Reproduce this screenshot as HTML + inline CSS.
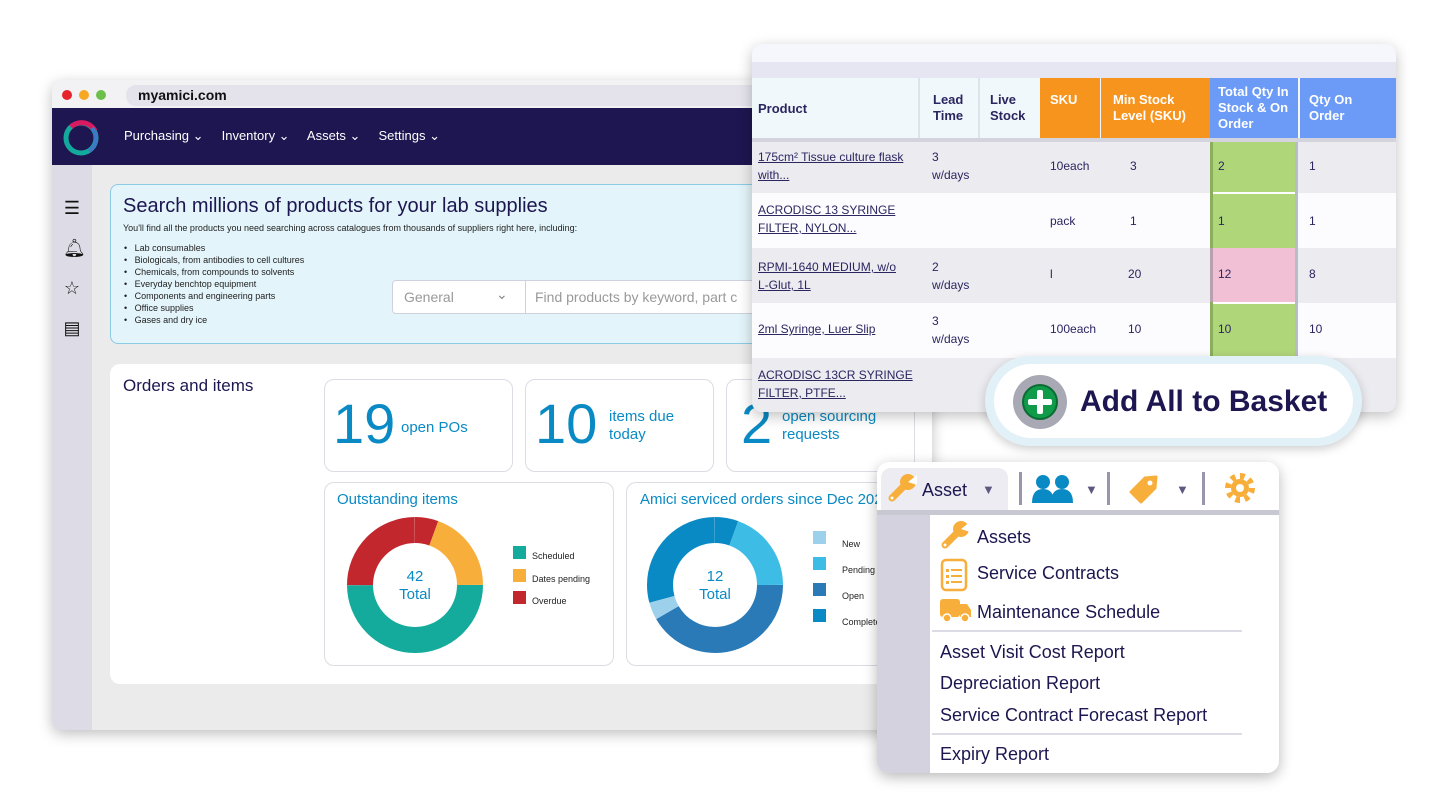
<!DOCTYPE html>
<html><head><meta charset="utf-8"><style>
*{margin:0;padding:0;box-sizing:border-box}
body{width:1440px;height:809px;background:#fff;position:relative;overflow:hidden;font-family:"Liberation Sans",sans-serif;color:#1d1650}
.a{position:absolute}
.card{position:absolute;background:#fff;border:1px solid #dcdce4;border-radius:10px}
.blue{color:#0a8ac4}
.lnk{text-decoration:underline;color:#2b2560;font-size:12px;line-height:18px}
.cell{font-size:12px;color:#2b2560;line-height:18px}
.hd{font-weight:bold;font-size:13px;line-height:16px;color:#2b2560}
.hw{color:#fff;font-weight:bold;font-size:13px;line-height:16px}
.mi{font-size:18px;color:#1d1650}
</style></head><body>
<svg width="0" height="0" style="position:absolute"><defs>
<g id="wr"><path d="M5 25 L19 11" stroke="#f8ae3a" stroke-width="7" stroke-linecap="round"/><circle cx="21" cy="9" r="8" fill="#f8ae3a"/><path d="M21 9 L30 2 L30 12Z" fill="#fff"/><circle cx="5" cy="25" r="1.5" fill="#fff"/></g>
</defs></svg>
<!-- browser window -->
<div class="a" style="left:52px;top:80px;width:880px;height:650px;border-radius:10px;background:#ebebeb;box-shadow:0 4px 14px rgba(0,0,0,.25);overflow:hidden">
 <div class="a" style="left:0;top:0;width:880px;height:28px;background:#f2f2f4"></div>
 <div class="a" style="left:10px;top:10px;width:10px;height:10px;border-radius:5px;background:#e5242b"></div>
 <div class="a" style="left:27px;top:10px;width:10px;height:10px;border-radius:5px;background:#f7a823"></div>
 <div class="a" style="left:44px;top:10px;width:10px;height:10px;border-radius:5px;background:#6cc04a"></div>
 <div class="a" style="left:74px;top:5px;width:800px;height:21px;border-radius:10px;background:#e4e3ec"></div>
 <div class="a" style="left:86px;top:7px;font-size:14px;font-weight:bold;color:#111">myamici.com</div>
 <div class="a" style="left:0;top:28px;width:880px;height:57px;background:#1d1650"></div>
 <svg class="a" style="left:10px;top:38px" width="38" height="40"><circle cx="19" cy="20" r="15" fill="none" stroke="#13aa9d" stroke-width="5"/><path d="M9 9 A15 15 0 0 1 33 13" fill="none" stroke="#d81b60" stroke-width="5"/><path d="M30 10 A15 15 0 0 1 27 33" fill="none" stroke="#3d79c4" stroke-width="4"/></svg>
 <div class="a" style="left:72px;top:48px;font-size:13px;color:#fff">Purchasing ⌄&nbsp;&nbsp;&nbsp;&nbsp; Inventory ⌄&nbsp;&nbsp;&nbsp;&nbsp; Assets ⌄&nbsp;&nbsp;&nbsp;&nbsp; Settings ⌄</div>
 <div class="a" style="left:0;top:85px;width:40px;height:565px;background:#dcdbe6"></div>
 <div class="a" style="left:11px;top:108px;font-size:18px;color:#111;line-height:40px;text-align:center;width:18px">☰<br>🔔︎<br>☆<br>▤</div>
 <div class="a" style="left:58px;top:104px;width:830px;height:160px;background:#e3f4fa;border:1px solid #8ccbe4;border-radius:8px"></div>
 <div class="a" style="left:71px;top:115px;font-size:20px;color:#1d1650">Search millions of products for your lab supplies</div>
 <div class="a" style="left:71px;top:143px;font-size:9px;color:#222">You'll find all the products you need searching across catalogues from thousands of suppliers right here, including:</div>
 <div class="a" style="left:72px;top:162px;font-size:9px;color:#222;line-height:12px">•&nbsp;&nbsp; Lab consumables<br>•&nbsp;&nbsp; Biologicals, from antibodies to cell cultures<br>•&nbsp;&nbsp; Chemicals, from compounds to solvents<br>•&nbsp;&nbsp; Everyday benchtop equipment<br>•&nbsp;&nbsp; Components and engineering parts<br>•&nbsp;&nbsp; Office supplies<br>•&nbsp;&nbsp; Gases and dry ice</div>
 <div class="a" style="left:340px;top:200px;width:500px;height:34px;background:#fff;border:1px solid #cfd2dc;border-radius:4px"></div>
 <div class="a" style="left:473px;top:200px;width:1px;height:34px;background:#cfd2dc"></div>
 <div class="a" style="left:352px;top:209px;font-size:14px;color:#999">General</div>
 <div class="a" style="left:444px;top:206px;font-size:14px;color:#888">⌄</div>
 <div class="a" style="left:483px;top:209px;font-size:14px;color:#999">Find products by keyword, part c</div>
 <div class="a" style="left:58px;top:284px;width:830px;height:320px;background:#fff;border-radius:10px"></div>
 <div class="a" style="left:71px;top:296px;font-size:17px;color:#1d1650">Orders and items</div>
</div>
<!-- stat cards -->
<div class="card" style="left:324px;top:379px;width:189px;height:93px"></div>
<div class="a blue" style="left:333px;top:392px;font-size:56px;line-height:64px">19</div>
<div class="a blue" style="left:401px;top:419px;font-size:15px">open POs</div>
<div class="card" style="left:525px;top:379px;width:189px;height:93px"></div>
<div class="a blue" style="left:535px;top:392px;font-size:56px;line-height:64px">10</div>
<div class="a blue" style="left:609px;top:408px;font-size:15px;line-height:18px">items due<br>today</div>
<div class="card" style="left:726px;top:379px;width:189px;height:93px"></div>
<div class="a blue" style="left:741px;top:392px;font-size:56px;line-height:64px">2</div>
<div class="a blue" style="left:782px;top:408px;font-size:15px;line-height:18px">open sourcing<br>requests</div>
<!-- donut cards -->
<div class="card" style="left:324px;top:482px;width:290px;height:184px"></div>
<div class="a blue" style="left:337px;top:491px;font-size:15px">Outstanding items</div>
<svg class="a" style="left:347px;top:517px" width="136" height="136"><g transform="rotate(-90 68 68)" fill="none" stroke-width="26">
<circle cx="68" cy="68" r="55" pathLength="360" stroke="#14ab9c" stroke-dasharray="180 360" stroke-dashoffset="-90"/>
<circle cx="68" cy="68" r="55" pathLength="360" stroke="#c1272d" stroke-dasharray="90 360" stroke-dashoffset="-270"/>
<circle cx="68" cy="68" r="55" pathLength="360" stroke="#c1272d" stroke-dasharray="20 360" stroke-dashoffset="0"/>
<circle cx="68" cy="68" r="55" pathLength="360" stroke="#f8ae3a" stroke-dasharray="70 360" stroke-dashoffset="-20"/></g></svg>
<div class="a blue" style="left:375px;top:568px;width:80px;text-align:center;font-size:15px;line-height:18px">42<br>Total</div>
<div class="a" style="left:513px;top:546px;width:13px;height:13px;background:#14ab9c"></div>
<div class="a" style="left:513px;top:569px;width:13px;height:13px;background:#f8ae3a"></div>
<div class="a" style="left:513px;top:591px;width:13px;height:13px;background:#c1272d"></div>
<div class="a" style="left:532px;top:545px;font-size:9px;color:#222;line-height:22.5px">Scheduled<br>Dates pending<br>Overdue</div>
<div class="card" style="left:626px;top:482px;width:290px;height:184px"></div>
<div class="a blue" style="left:640px;top:491px;font-size:15px">Amici serviced orders since Dec 2021</div>
<svg class="a" style="left:647px;top:517px" width="136" height="136"><g transform="rotate(-90 68 68)" fill="none" stroke-width="26">
<circle cx="68" cy="68" r="55" pathLength="360" stroke="#0a8ac4" stroke-dasharray="105 360" stroke-dashoffset="-255"/>
<circle cx="68" cy="68" r="55" pathLength="360" stroke="#0a8ac4" stroke-dasharray="20 360" stroke-dashoffset="0"/>
<circle cx="68" cy="68" r="55" pathLength="360" stroke="#3dbde6" stroke-dasharray="70 360" stroke-dashoffset="-20"/>
<circle cx="68" cy="68" r="55" pathLength="360" stroke="#2a7ab8" stroke-dasharray="150 360" stroke-dashoffset="-90"/>
<circle cx="68" cy="68" r="55" pathLength="360" stroke="#9dd0ea" stroke-dasharray="15 360" stroke-dashoffset="-240"/></g></svg>
<div class="a blue" style="left:675px;top:568px;width:80px;text-align:center;font-size:15px;line-height:18px">12<br>Total</div>
<div class="a" style="left:813px;top:531px;width:13px;height:13px;background:#9dd0ea"></div>
<div class="a" style="left:813px;top:557px;width:13px;height:13px;background:#3dbde6"></div>
<div class="a" style="left:813px;top:583px;width:13px;height:13px;background:#2a7ab8"></div>
<div class="a" style="left:813px;top:609px;width:13px;height:13px;background:#0a8ac4"></div>
<div class="a" style="left:842px;top:531px;font-size:9px;color:#222;line-height:26px">New<br>Pending<br>Open<br>Complete</div>
<!-- table panel -->
<div class="a" style="left:752px;top:44px;width:644px;height:368px;border-radius:10px;background:#f6f7fc;box-shadow:0 4px 14px rgba(0,0,0,.25);overflow:hidden">
 <div class="a" style="left:0;top:18px;width:644px;height:16px;background:#e6e6f2"></div>
 <div class="a" style="left:0;top:34px;width:166px;height:60px;background:#f1f8fb"></div>
 <div class="a" style="left:168px;top:34px;width:58px;height:60px;background:#f1f8fb"></div>
 <div class="a" style="left:228px;top:34px;width:60px;height:60px;background:#f1f8fb"></div>
 <div class="a" style="left:166px;top:34px;width:2px;height:60px;background:#dde3ea"></div>
 <div class="a" style="left:226px;top:34px;width:2px;height:60px;background:#dde3ea"></div>
 <div class="a" style="left:288px;top:34px;width:60px;height:60px;background:#f7941d"></div>
 <div class="a" style="left:349px;top:34px;width:109px;height:60px;background:#f7941d"></div>
 <div class="a" style="left:458px;top:34px;width:88px;height:60px;background:#6b9bf7"></div>
 <div class="a" style="left:548px;top:34px;width:96px;height:60px;background:#6b9bf7"></div>
 <div class="a" style="left:0;top:94px;width:644px;height:4px;background:#d4d4de"></div>
 <div class="a hd" style="left:6px;top:57px">Product</div>
 <div class="a hd" style="left:181px;top:48px">Lead<br>Time</div>
 <div class="a hd" style="left:238px;top:48px">Live<br>Stock</div>
 <div class="a hw" style="left:298px;top:48px">SKU</div>
 <div class="a hw" style="left:361px;top:48px">Min Stock<br>Level (SKU)</div>
 <div class="a hw" style="left:466px;top:40px">Total Qty In<br>Stock &amp; On<br>Order</div>
 <div class="a hw" style="left:557px;top:48px">Qty On<br>Order</div>
 <div class="a" style="left:0;top:98px;width:644px;height:51px;background:#ebebf0"></div>
 <div class="a" style="left:0;top:149px;width:644px;height:55px;background:#fcfcfe"></div>
 <div class="a" style="left:0;top:204px;width:644px;height:55px;background:#ebebf0"></div>
 <div class="a" style="left:0;top:259px;width:644px;height:55px;background:#fcfcfe"></div>
 <div class="a" style="left:0;top:314px;width:644px;height:54px;background:#ebebf0"></div>
 <div class="a" style="left:458px;top:98px;width:88px;height:216px;background:#b0d67a;border-left:3px solid #8aae5a;border-right:3px solid #b8bcc6"></div>
 <div class="a" style="left:458px;top:204px;width:88px;height:54px;background:#f1c0d4;border-left:3px solid #b8a0b0;border-right:3px solid #b8bcc6"></div>
 <div class="a" style="left:461px;top:148px;width:82px;height:2px;background:#fff"></div>
 <div class="a" style="left:461px;top:258px;width:82px;height:2px;background:#fff"></div>
 <div class="a lnk" style="left:6px;top:104px">175cm² Tissue culture flask<br>with...</div>
 <div class="a cell" style="left:180px;top:104px">3<br>w/days</div>
 <div class="a cell" style="left:298px;top:113px">10each</div><div class="a cell" style="left:378px;top:113px">3</div><div class="a cell" style="left:466px;top:113px">2</div><div class="a cell" style="left:557px;top:113px">1</div>
 <div class="a lnk" style="left:6px;top:157px">ACRODISC 13 SYRINGE<br>FILTER, NYLON...</div>
 <div class="a cell" style="left:298px;top:168px">pack</div><div class="a cell" style="left:378px;top:168px">1</div><div class="a cell" style="left:466px;top:168px">1</div><div class="a cell" style="left:557px;top:168px">1</div>
 <div class="a lnk" style="left:6px;top:214px">RPMI-1640 MEDIUM, w/o<br>L-Glut, 1L</div>
 <div class="a cell" style="left:180px;top:214px">2<br>w/days</div>
 <div class="a cell" style="left:298px;top:221px">l</div><div class="a cell" style="left:376px;top:221px">20</div><div class="a cell" style="left:466px;top:221px">12</div><div class="a cell" style="left:557px;top:221px">8</div>
 <div class="a lnk" style="left:6px;top:276px">2ml Syringe, Luer Slip</div>
 <div class="a cell" style="left:180px;top:268px">3<br>w/days</div>
 <div class="a cell" style="left:298px;top:276px">100each</div><div class="a cell" style="left:376px;top:276px">10</div><div class="a cell" style="left:466px;top:276px">10</div><div class="a cell" style="left:557px;top:276px">10</div>
 <div class="a lnk" style="left:6px;top:322px">ACRODISC 13CR SYRINGE<br>FILTER, PTFE...</div>
</div>
<!-- add to basket -->
<div class="a" style="left:985px;top:356px;width:377px;height:90px;border-radius:45px;background:#e2f1f8;box-shadow:0 3px 10px rgba(0,0,0,.2)"></div>
<div class="a" style="left:994px;top:364px;width:359px;height:74px;border-radius:37px;background:#fff"></div>
<div class="a" style="left:1013px;top:375px;width:54px;height:54px;border-radius:27px;background:#a9a9b5"></div>
<div class="a" style="left:1022px;top:384px;width:36px;height:36px;border-radius:18px;background:#0f9b4a;border:2px solid #0b6b33"></div>
<div class="a" style="left:1037px;top:390px;width:6px;height:24px;background:#fff;border-radius:2px"></div>
<div class="a" style="left:1028px;top:399px;width:24px;height:6px;background:#fff;border-radius:2px"></div>
<div class="a" style="left:1080px;top:385px;font-size:30px;font-weight:bold;color:#1d1650">Add All to Basket</div>
<!-- asset menu -->
<div class="a" style="left:877px;top:462px;width:402px;height:311px;border-radius:12px;background:#fff;box-shadow:0 4px 14px rgba(0,0,0,.28);overflow:hidden">
 <div class="a" style="left:4px;top:6px;width:127px;height:44px;background:#ececf2;border-radius:10px 10px 0 0"></div>
 <div class="a" style="left:0;top:48px;width:402px;height:5px;background:#c8c8d2"></div>
 <div class="a" style="left:0;top:53px;width:53px;height:258px;background:#d3d2de"></div>
 <svg class="a" style="left:10px;top:11px" width="32" height="32"><use href="#wr"/></svg>
 <div class="a" style="left:45px;top:18px;font-size:18px;color:#1d1650">Asset</div>
 <div class="a" style="left:105px;top:20px;font-size:13px;color:#5d5880">▼</div>
 <div class="a" style="left:142px;top:10px;width:3px;height:33px;background:#9896ac"></div>
 <div class="a" style="left:230px;top:10px;width:3px;height:33px;background:#9896ac"></div>
 <div class="a" style="left:325px;top:10px;width:3px;height:33px;background:#9896ac"></div>
 <svg class="a" style="left:155px;top:12px" width="42" height="30"><circle cx="11" cy="8" r="7" fill="#0a8ac4"/><circle cx="30" cy="8" r="7" fill="#0a8ac4"/><path d="M0 29 Q0 15 11 15 Q22 15 22 29Z M19 29 Q19 15 30 15 Q41 15 41 29Z" fill="#0a8ac4"/></svg>
 <div class="a" style="left:208px;top:20px;font-size:13px;color:#5d5880">▼</div>
 <svg class="a" style="left:250px;top:12px" width="32" height="32"><path d="M4 18 L18 4 L29 3 L28 14 L14 28 Z" fill="#f8ae3a" stroke="#f8ae3a" stroke-linejoin="round" stroke-width="3"/><circle cx="23" cy="9" r="2.5" fill="#fff"/></svg>
 <div class="a" style="left:299px;top:20px;font-size:13px;color:#5d5880">▼</div>
 <svg class="a" style="left:348px;top:11px" width="30" height="30"><circle cx="15" cy="15" r="12" fill="none" stroke="#f8ae3a" stroke-width="6" pathLength="16" stroke-dasharray="1 1"/><circle cx="15" cy="15" r="9" fill="#f8ae3a"/><circle cx="15" cy="15" r="4" fill="#fff"/></svg>
 <svg class="a" style="left:63px;top:58px" width="32" height="32"><use href="#wr"/></svg>
 <div class="a mi" style="left:100px;top:65px">Assets</div>
 <svg class="a" style="left:63px;top:96px" width="28" height="34"><rect x="2" y="2" width="24" height="30" rx="4" fill="#fff" stroke="#f8ae3a" stroke-width="2.5"/><g fill="#f8ae3a"><rect x="6" y="11" width="3" height="3"/><rect x="11" y="11" width="11" height="2"/><rect x="6" y="17" width="3" height="3"/><rect x="11" y="17" width="11" height="2"/><rect x="6" y="23" width="3" height="3"/><rect x="11" y="23" width="11" height="2"/></g></svg>
 <div class="a mi" style="left:100px;top:101px">Service Contracts</div>
 <svg class="a" style="left:63px;top:137px" width="32" height="24"><rect x="0" y="0" width="20" height="18" rx="3" fill="#f8ae3a"/><path d="M20 5 L27 5 L31 11 L31 18 L20 18Z" fill="#f8ae3a"/><circle cx="7" cy="19" r="4" fill="#f8ae3a" stroke="#fff" stroke-width="1.5"/><circle cx="25" cy="19" r="4" fill="#f8ae3a" stroke="#fff" stroke-width="1.5"/></svg>
 <div class="a mi" style="left:100px;top:140px">Maintenance Schedule</div>
 <div class="a" style="left:55px;top:168px;width:310px;height:2px;background:#dcdce6"></div>
 <div class="a mi" style="left:63px;top:180px">Asset Visit Cost Report</div>
 <div class="a mi" style="left:63px;top:211px">Depreciation Report</div>
 <div class="a mi" style="left:63px;top:243px">Service Contract Forecast Report</div>
 <div class="a" style="left:55px;top:271px;width:310px;height:2px;background:#dcdce6"></div>
 <div class="a mi" style="left:63px;top:282px">Expiry Report</div>
</div>
</body></html>
